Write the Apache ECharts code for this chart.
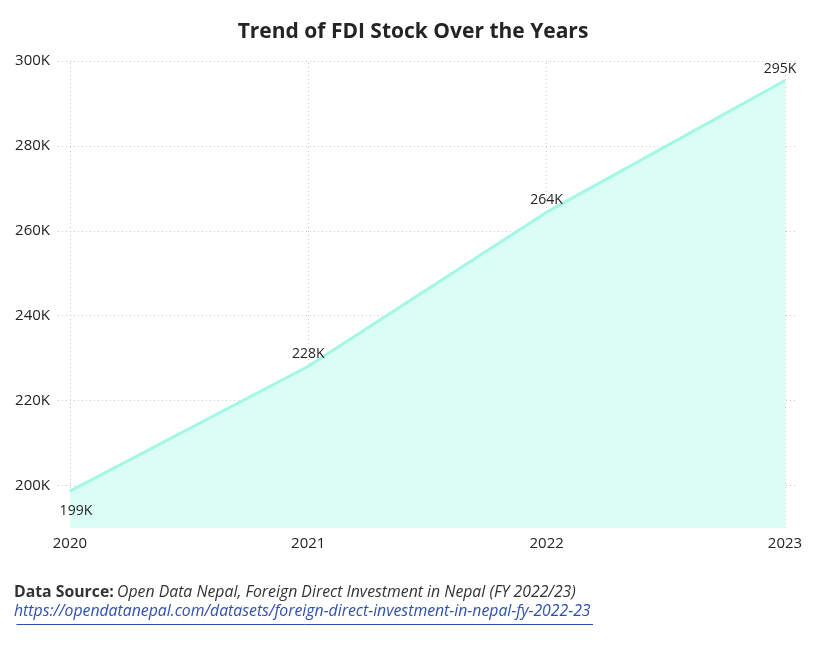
<!DOCTYPE html>
<html><head><meta charset="utf-8">
<script src="https://cdn.jsdelivr.net/npm/echarts@6/dist/echarts.min.js"></script>
<style>html,body{margin:0;padding:0;background:#fff}#c{width:826px;height:647px}</style>
</head><body><div id="c"></div>
<script>
const years = [2020, 2021, 2022, 2023];
const fdiStock = [198700, 228100, 264400, 295400];
const yTicks = [200000, 220000, 240000, 260000, 280000, 300000];

const FONT = '"Open Sans", "Noto Sans", sans-serif';
const chart = echarts.init(document.getElementById('c'));
const fmtK = v => Math.round(v / 1000) + 'K';

const linkText = 'https://opendatanepal.com/datasets/foreign-direct-investment-in-nepal-fy-2022-23';
const ctx = document.createElement('canvas').getContext('2d');
ctx.font = 'italic 15.8px "Open Sans"';
const linkW = ctx.measureText(linkText).width;

const gridStyle = { type: [1, 3], color: '#c8c8c8', width: 1 };

chart.setOption({
  animation: false,
  title: {
    text: 'Trend of FDI Stock Over the Years',
    left: 'center', top: 17,
    textStyle: { fontFamily: FONT, fontSize: 21, fontWeight: 'bold', color: '#252423' }
  },
  grid: { left: 58, right: 31, top: 61, bottom: 119 },
  xAxis: {
    type: 'value', min: 2019.95, max: 2023.042,
    axisLine: { show: false }, axisTick: { show: false }, splitLine: { show: false },
    axisLabel: { customValues: years, formatter: v => String(v), fontFamily: FONT, fontSize: 15, color: '#252423', margin: 8 }
  },
  yAxis: {
    type: 'value', min: 190000, max: 300000,
    axisLine: { show: false }, axisTick: { show: false }, splitLine: { show: false },
    axisLabel: { customValues: yTicks, formatter: fmtK, fontFamily: FONT, fontSize: 15, color: '#252423', margin: 8 }
  },
  series: [{
    type: 'line',
    data: years.map((y, i) => [y, fdiStock[i]]),
    symbol: 'circle', symbolSize: 2, showSymbol: true,
    itemStyle: { color: 'rgba(0,0,0,0)' },
    lineStyle: { color: '#a3f7e4', width: 3 },
    areaStyle: { color: '#dafdf5', opacity: 1 },
    label: {
      show: true, position: 'top', distance: 4,
      formatter: p => fmtK(p.value[1]),
      fontFamily: FONT, fontSize: 14, color: '#252423'
    },
    labelLayout: p => p.dataIndex === 0 ? { dy: 32, dx: 6 } : (p.dataIndex === 3 ? { dx: -5 } : {}),
    markLine: {
      silent: true, symbol: 'none', animation: false, z: 0,
      label: { show: false },
      lineStyle: gridStyle,
      emphasis: { disabled: true },
      data: yTicks.map(v => ({ yAxis: v })).concat(years.map(v => ({ xAxis: v })))
    }
  }],
  graphic: [
    {
      type: 'text', left: 14, top: 584,
      style: {
        text: '{b|Data Source:} {i|Open Data Nepal, Foreign Direct Investment in Nepal (FY 2022/23)}',
        rich: {
          b: { fontFamily: FONT, fontSize: 15.8, fontWeight: 'bold', fill: '#333333' },
          i: { fontFamily: FONT, fontSize: 15.8, fontStyle: 'italic', fill: '#333333' }
        }
      }
    },
    {
      type: 'text', left: 14, top: 603,
      style: { text: linkText, fontFamily: FONT, fontSize: 15.8, fontStyle: 'italic', fill: '#2f4fae' }
    },
    {
      type: 'line', left: 14, top: 622,
      shape: { x1: 0, y1: 0, x2: linkW, y2: 0 },
      style: { stroke: '#2f4fae', lineWidth: 1 }
    }
  ]
});
</script></body></html>
